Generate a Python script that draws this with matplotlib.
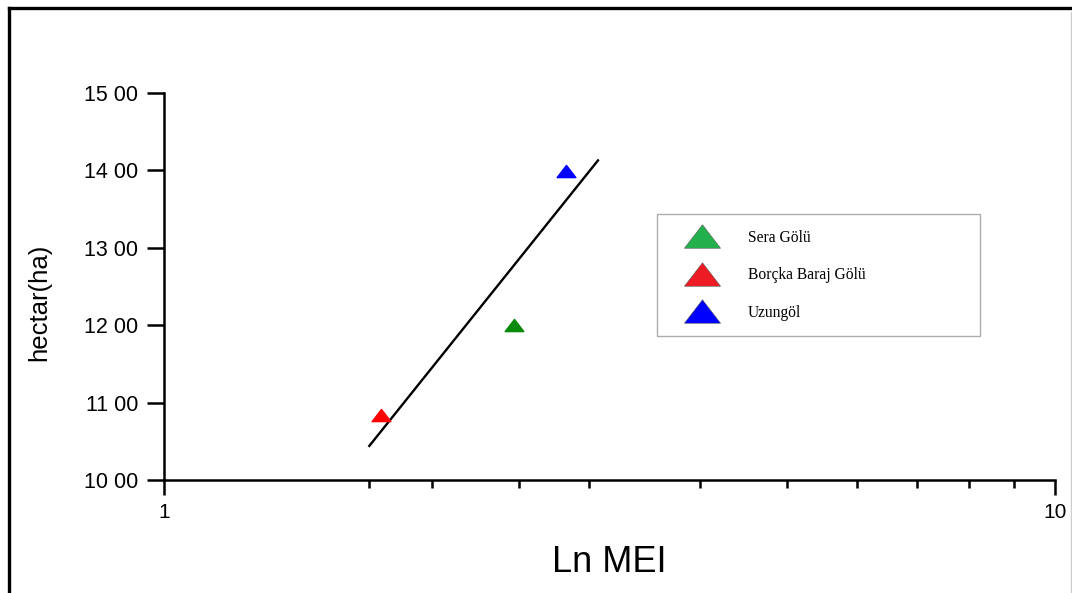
import matplotlib
matplotlib.use("Agg")
import matplotlib.pyplot as plt
from matplotlib.lines import Line2D
from matplotlib.path import Path

plt.rcParams['font.family'] = ['Liberation Sans', 'DejaVu Sans']

# data
lakes = ["Sera Gölü", "Borçka Baraj Gölü", "Uzungöl"]
mei = [2.47, 1.75, 2.83]
hectar = [12.0, 10.84, 13.99]
point_colors = ["#0a8a0a", "#ff0000", "#0000ff"]
legend_colors = ["#22b14c", "#ed1c24", "#0000ff"]

# fitted line end points
fit_x = [1.70, 3.07]
fit_y = [10.44, 14.13]

y_ticks = [10, 11, 12, 13, 14, 15]
y_labels = ["10 00", "11 00", "12 00", "13 00", "14 00", "15 00"]
x_major = [1, 10]
x_minor = [1.7, 2, 2.5, 3, 4, 5, 6, 7, 8, 9]

# flat triangle marker, wider than tall
tri = Path([(-1, -0.65), (1, -0.65), (0, 0.65), (-1, -0.65)],
           [Path.MOVETO, Path.LINETO, Path.LINETO, Path.CLOSEPOLY])

fig = plt.figure(figsize=(10.72, 5.93), dpi=100)
ax = fig.add_axes([0.153, 0.1906, 0.831, 0.6524])

ax.plot(fit_x, fit_y, color="black", lw=1.7, zorder=2)
for x, y, c in zip(mei, hectar, point_colors):
    ax.plot([x], [y], marker=tri, markersize=13.5, color=c, ls="none", zorder=3)

ax.set_xscale("log")
ax.set_xlim(1, 10)
ax.set_ylim(10, 15)

ax.set_xticks(x_major)
ax.set_xticklabels(["1", "10"])
ax.set_xticks(x_minor, minor=True)
ax.set_xticklabels([""] * len(x_minor), minor=True)
ax.set_yticks(y_ticks)
ax.set_yticklabels(y_labels)
ax.tick_params(axis="x", which="major", length=10.8, width=1.8, pad=5.5, labelsize=15)
ax.tick_params(axis="x", which="minor", length=5.8, width=1.8)
ax.tick_params(axis="y", which="major", length=12.2, width=1.8, pad=6.5, labelsize=15.5)
ax.tick_params(axis="y", which="minor", left=False)

for s in ["top", "right"]:
    ax.spines[s].set_visible(False)
for s in ["left", "bottom"]:
    ax.spines[s].set_linewidth(1.8)

ax.set_ylabel("hectar(ha)", fontsize=18.5)
ax.yaxis.set_label_coords(-0.127, 0.46)
ax.set_xlabel("Ln MEI", fontsize=26, labelpad=17)

handles = [Line2D([], [], marker=tri, markersize=26, color=c, ls="none",
                  markeredgecolor="#555555", markeredgewidth=0.4)
           for c in legend_colors]
leg = fig.legend(handles, lakes, loc="upper left",
                 bbox_to_anchor=(0.613, 0.428, 0.301, 0.211), mode="expand",
                 prop={"family": "Liberation Serif", "size": 11.2},
                 frameon=True, fancybox=False, borderpad=1.0,
                 labelspacing=1.39, handlelength=3.75, handletextpad=1.1,
                 borderaxespad=0)
leg.get_frame().set_edgecolor("#999999")
leg.get_frame().set_linewidth(1.0)

# outer frame of the picture
fig.add_artist(Line2D([0.0084, 1.0], [0.9865, 0.9865], color="black", lw=2.4))
fig.add_artist(Line2D([0.0084, 0.0084], [0.0, 0.9865], color="black", lw=2.4))
fig.add_artist(Line2D([0.999, 0.999], [0.0, 0.98], color="#cccccc", lw=1))

fig.savefig("out.png", dpi=100)
